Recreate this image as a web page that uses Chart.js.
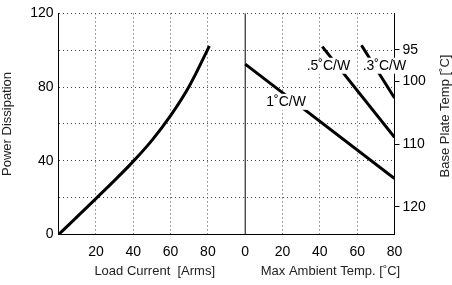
<!DOCTYPE html>
<html>
<head>
<meta charset="utf-8">
<script src="https://cdn.jsdelivr.net/npm/chart.js@4"></script>
<style>
  body { margin: 0; background: #fff; }
  #wrap { width: 452px; height: 285px; }
</style>
</head>
<body>
<div id="wrap"><canvas id="myChart"></canvas></div>
<script>
// left panel: power vs load current
var loadCurrent = [0, 10, 20, 30, 40, 50, 60, 70, 80, 80.8];
var powerDiss = [0, 9.7, 19.5, 29.4, 39.7, 51.1, 64.5, 80.5, 100.6, 102.3];

// right panel: derating lines (ambient temp, power)
var lineNames = ["1˚C/W", ".5˚C/W", ".3˚C/W"];
var ambStart = [0, 41.3, 62.3];
var ambEnd = [80, 80, 80];
var powStart = [92.5, 102, 102.7];
var powEnd = [30.4, 52.7, 74.1];
// where the line labels sit (ambient, power)
var labelAmb = [21.9, 44.6, 74.6];
var labelPow = [72, 91.6, 91.6];

var plateTicks = [95, 100, 110, 120];
var panelOffset = 100; // right panel starts at x = 100 on the shared axis

var fontFam = "'Liberation Sans', Arial, sans-serif";

var datasets = [{
    data: loadCurrent.map(function (v, i) { return { x: v, y: powerDiss[i] }; }),
    borderColor: "#000",
    borderWidth: 3,
    pointRadius: 0,
    showLine: true,
    tension: 0.4
}];
for (var i = 0; i < lineNames.length; i++) {
    datasets.push({
        data: [
            { x: panelOffset + ambStart[i], y: powStart[i] },
            { x: panelOffset + ambEnd[i], y: powEnd[i] }
        ],
        borderColor: "#000",
        borderWidth: 3,
        pointRadius: 0,
        showLine: true
    });
}

var extras = {
    id: "extras",
    beforeDatasetsDraw: function (chart) {
        var ctx = chart.ctx, xs = chart.scales.x, a = chart.chartArea;
        var px = xs.getPixelForValue(panelOffset);
        ctx.save();
        ctx.strokeStyle = "#000";
        ctx.lineWidth = 1;
        ctx.beginPath();
        ctx.moveTo(px, a.top);
        ctx.lineTo(px, a.bottom);
        ctx.stroke();
        ctx.restore();
    },
    afterDraw: function (chart) {
        var ctx = chart.ctx, xs = chart.scales.x, ys = chart.scales.y;
        ctx.save();
        ctx.font = "14px " + fontFam;
        ctx.textAlign = "center";
        ctx.textBaseline = "middle";
        for (var i = 0; i < lineNames.length; i++) {
            var cx = xs.getPixelForValue(panelOffset + labelAmb[i]);
            var cy = ys.getPixelForValue(labelPow[i]);
            var w = ctx.measureText(lineNames[i]).width;
            ctx.fillStyle = "#fff";
            ctx.fillRect(cx - w / 2 - 2, cy - 8, w + 4, 16);
            ctx.fillStyle = "#000";
            ctx.fillText(lineNames[i], cx, cy);
        }
        // x axis titles for both panels
        ctx.font = "13px " + fontFam;
        ctx.fillStyle = "#222";
        ctx.fillText("Load Current  [Arms]", xs.getPixelForValue(51.5), 271);
        ctx.fillText("Max Ambient Temp. [˚C]", xs.getPixelForValue(145.7), 271);
        // right title reads bottom-to-top like the left one
        ctx.translate(445, 116);
        ctx.rotate(-Math.PI / 2);
        ctx.fillText("Base Plate Temp [˚C]", 0, 0);
        ctx.restore();
    }
};

new Chart("myChart", {
    type: "scatter",
    data: { datasets: datasets },
    plugins: [extras],
    options: {
        responsive: true,
        maintainAspectRatio: false,
        animation: false,
        layout: { padding: { top: 10, left: 0, right: 0, bottom: 0 } },
        plugins: {
            legend: { display: false },
            tooltip: { enabled: false }
        },
        scales: {
            x: {
                type: "linear",
                min: 0,
                max: 180,
                afterFit: function (s) { s.height = 50.5; },
                ticks: {
                    stepSize: 20,
                    padding: 9,
                    color: "#000",
                    font: { size: 14, family: fontFam },
                    callback: function (v) {
                        if (v === 0) return "";
                        return v >= panelOffset ? String(v - panelOffset) : String(v);
                    }
                },
                grid: {
                    drawTicks: false,
                    color: function (c) {
                        var v = c.tick ? c.tick.value : null;
                        if (v === 0 || v === panelOffset || v === 180) return "rgba(0,0,0,0)";
                        return "#444";
                    }
                },
                border: { display: true, color: "#000", width: 1, dash: [1, 3] }
            },
            y: {
                min: 0,
                max: 120,
                afterFit: function (s) { s.width = 58.6; },
                ticks: {
                    stepSize: 20,
                    padding: 5,
                    color: "#000",
                    font: { size: 14, family: fontFam },
                    callback: function (v) { return v % 40 === 0 ? String(v) : ""; }
                },
                grid: {
                    drawTicks: false,
                    color: function (c) {
                        return c.tick && c.tick.value === 0 ? "rgba(0,0,0,0)" : "#444";
                    }
                },
                border: { display: true, color: "#000", width: 1, dash: [1, 3] },
                title: {
                    display: true,
                    text: "Power Dissipation",
                    color: "#222",
                    font: { size: 13, family: fontFam },
                    padding: { top: 0, bottom: 0 }
                }
            },
            y2: {
                position: "right",
                reverse: true,
                min: 89.2,
                max: 124.4,
                afterFit: function (s) { s.width = 57.5; },
                afterBuildTicks: function (s) {
                    s.ticks = plateTicks.map(function (v) { return { value: v }; });
                },
                ticks: {
                    padding: 3,
                    color: "#000",
                    font: { size: 14, family: fontFam }
                },
                grid: {
                    drawOnChartArea: false,
                    drawTicks: true,
                    tickLength: 5,
                    tickColor: "#000"
                },
                border: { display: true, color: "#000", width: 1 }
            }
        }
    }
});
</script>
</body>
</html>
